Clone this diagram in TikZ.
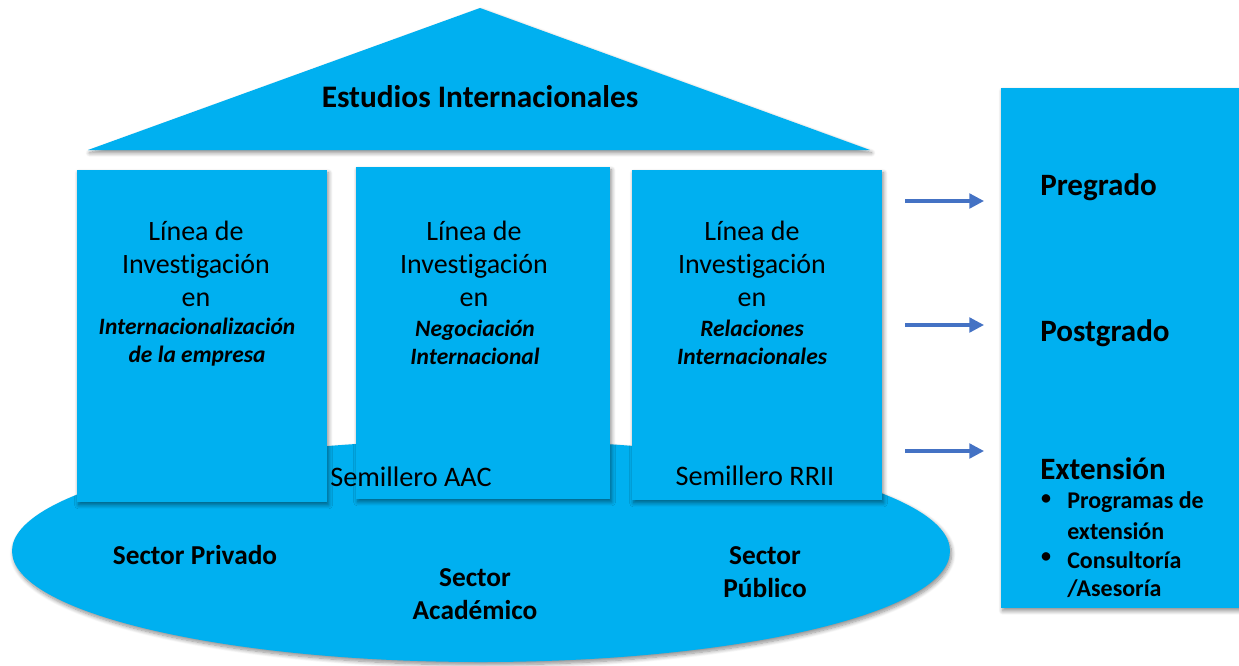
\documentclass[tikz,border=0pt]{standalone}
\usepackage{fontspec}
\setmainfont{Carlito}[Ligatures=NoCommon]
\usetikzlibrary{shapes.geometric,shadows.blur,arrows.meta}
\definecolor{cyanfill}{HTML}{00B0F0}
\definecolor{arrowblue}{HTML}{4472C4}
\begin{document}
\begin{tikzpicture}[x=0.75pt,y=-0.75pt,
  shp/.style={fill=cyanfill, draw=none, blur shadow={shadow xshift=1.2pt, shadow yshift=-2.2pt, shadow blur steps=8, shadow opacity=45, shadow blur radius=3pt}},
  pillar/.style={shp, rectangle, inner sep=0pt, minimum width=187.5pt, minimum height=249pt},
  reg/.style={align=center, inner sep=0pt, font=\fontsize{21}{24.75}\selectfont},
  itb/.style={align=center, inner sep=0pt, font=\fontsize{17.6}{21}\selectfont\bfseries\itshape},
  sem/.style={inner sep=0pt, font=\fontsize{21.2}{24}\selectfont},
  sec/.style={align=center, inner sep=0pt, font=\fontsize{20.5}{24.75}\selectfont\bfseries},
  head/.style={inner sep=0pt, anchor=west, font=\fontsize{23.3}{27}\selectfont\bfseries},
  item/.style={inner sep=0pt, anchor=west, font=\fontsize{18}{21}\selectfont\bfseries},
  bul/.style={inner sep=0pt, font=\fontsize{15}{18}\selectfont\bfseries},
  arr/.style={draw=arrowblue, line width=2.4pt, -{Triangle[length=11pt,width=11pt]}}
]
\useasboundingbox (0,0) rectangle (1239,665);
% base ellipse
\node[shp, ellipse, inner sep=0pt, minimum width=703.5pt, minimum height=166.5pt] (base) at (481,551) {};
% pillars
\node[pillar] (p1) at (202,336) {};
\node[pillar, minimum width=190.5pt] (p2) at (483,333) {};
\node[pillar, minimum height=247.5pt] (p3) at (757,335) {};
% roof
\path[shp] (480,8) coordinate (apex) -- (870,150) coordinate (rr) -- (88,150) coordinate (rl) -- cycle;
\node[inner sep=0pt, font=\fontsize{23.5}{27}\selectfont\bfseries] (roof) at (480,97) {Estudios Internacionales};
% right box
\path[shp] (1001,88) rectangle (1260,608);
\node[inner sep=0pt, minimum width=186pt, minimum height=390pt] (rbox) at (1120,348) {};
% pillar texts
\node[reg] (t1) at (196,264) {Línea de\\Investigación\\en};
\node[itb] (i1) at (197,342) {Internacionalización\\de la empresa};
\node[reg] (t2) at (474,264) {Línea de\\Investigación\\en};
\node[itb] (i2) at (475,342) {Negociación\\Internacional};
\node[reg] (t3) at (752,264) {Línea de\\Investigación\\en};
\node[itb] (i3) at (752,342) {Relaciones\\Internacionales};
% semilleros
\node[sem] (s1) at (411,477) {Semillero AAC};
\node[sem] (s2) at (755,476) {Semillero RRII};
% sectors
\node[sec] (sp) at (195,555) {Sector Privado};
\node[sec] (sa) at (475,594) {Sector\\Académico};
\node[sec] (su) at (765,572) {Sector\\Público};
% right texts
\node[head] (pre) at (1040,187) {Pregrado};
\node[head] (pos) at (1040,333) {Postgrado};
\node[head] (ext) at (1040,469) {Extensión};
\node[bul] (b1) at (1046,500) {•};
\node[item] (x1) at (1067,502) {Programas de};
\node[item] (x1b) at (1067,531) {extensión};
\node[bul] (b2) at (1046,558) {•};
\node[item] (x2) at (1067,560) {Consultoría};
\node[item] (x2b) at (1067,589) {/Asesoría};
% arrows
\coordinate (a1s) at (905,201); \coordinate (a1e) at (984,201);
\coordinate (a2s) at (905,325); \coordinate (a2e) at (984,325);
\coordinate (a3s) at (905,451); \coordinate (a3e) at (984,451);
\draw[arr] (a1s) -- (a1e);
\draw[arr] (a2s) -- (a2e);
\draw[arr] (a3s) -- (a3e);
\end{tikzpicture}
\end{document}
